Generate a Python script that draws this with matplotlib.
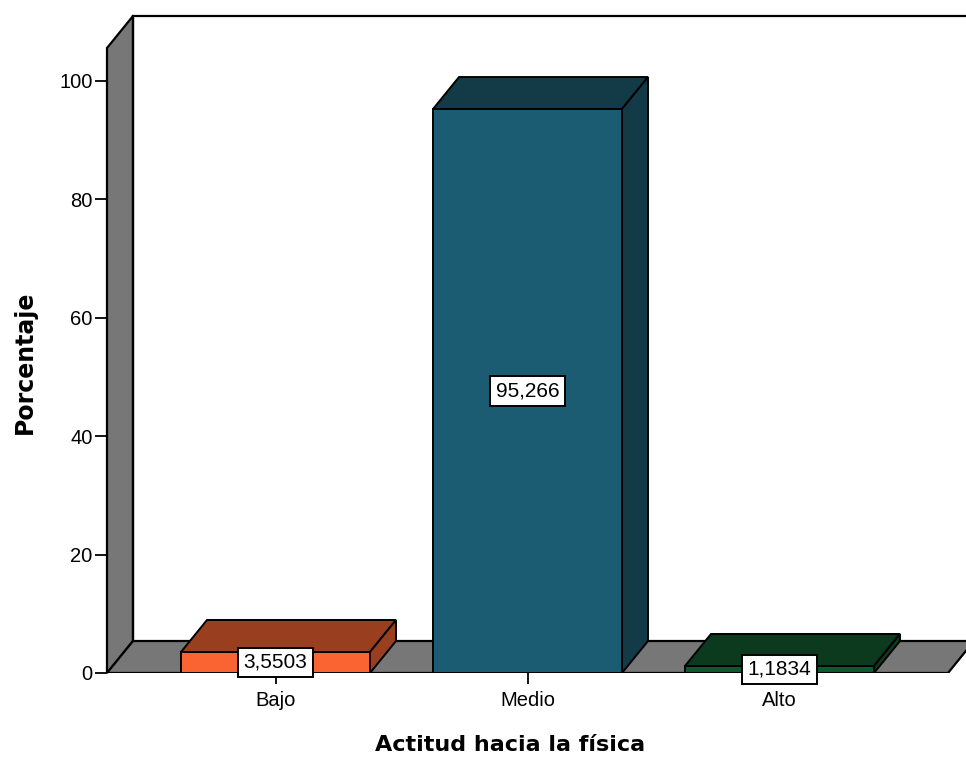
import matplotlib
matplotlib.use("Agg")
import matplotlib.pyplot as plt
from matplotlib.patches import Polygon

# Data
categories = ["Bajo", "Medio", "Alto"]
percentages = [3.5503, 95.266, 1.1834]
yticks = [0, 20, 40, 60, 80, 100]

front_colors = ["#FA6433", "#1B5C73", "#0C5A30"]
shade_colors = ["#9A3E20", "#133A47", "#0B3A1F"]
wall_color = "#777777"

W, H = 966, 758
fig = plt.figure(figsize=(W / 100, H / 100), dpi=100)

# pixel layout of the plotting frame
px_left, px_right = 107, 966
px_zero, px_top = 673, 10
px_per_unit = 5.92          # pixels per percent
px_per_cat = 252            # pixels per category step
cat0_px = 275.5

xmin = (px_left - cat0_px) / px_per_cat
xmax = (px_right - cat0_px) / px_per_cat
ymax = (px_zero - px_top) / px_per_unit

ax = fig.add_axes([px_left / W, 1 - px_zero / H,
                   (px_right - px_left) / W, (px_zero - px_top) / H])
ax.set_xlim(xmin, xmax)
ax.set_ylim(0, ymax)
for s in ax.spines.values():
    s.set_visible(False)

# depth offsets for the 3D look
DX = 26 / px_per_cat
DY = 32 / px_per_unit
wall_top = (px_zero - 16) / px_per_unit
floor_end = (948 - cat0_px) / px_per_cat
lw = 1.6

# left wall
ax.add_patch(Polygon([(xmin, 0), (xmin, wall_top - DY), (xmin + DX, wall_top),
                      (xmin + DX, DY)], closed=True, fc=wall_color, ec="black",
                     lw=lw, zorder=1, clip_on=False))
# floor
ax.add_patch(Polygon([(xmin, 0), (floor_end, 0), (floor_end + DX, DY),
                      (xmin + DX, DY)], closed=True, fc=wall_color, ec="black",
                     lw=lw, zorder=1))
# back wall outline
ax.plot([xmin + DX, xmin + DX], [DY, wall_top], color="black", lw=lw, zorder=1.5,
        solid_capstyle="projecting")
ax.plot([xmin + DX, xmax], [wall_top, wall_top], color="black", lw=lw, zorder=1.5,
        clip_on=False)

# bars
bw = 189 / px_per_cat
for i, (v, fc, sc) in enumerate(zip(percentages, front_colors, shade_colors)):
    l, r = i - bw / 2, i + bw / 2
    z = 3 + i
    ax.add_patch(Polygon([(l, 0), (r, 0), (r, v), (l, v)], closed=True,
                         fc=fc, ec="black", lw=1.4, zorder=z))
    ax.add_patch(Polygon([(l, v), (r, v), (r + DX, v + DY), (l + DX, v + DY)],
                         closed=True, fc=sc, ec="black", lw=1.4, zorder=z))
    ax.add_patch(Polygon([(r, 0), (r + DX, DY), (r + DX, v + DY), (r, v)],
                         closed=True, fc=sc, ec="black", lw=1.4, zorder=z))
    label = f"{v:g}".replace(".", ",")
    ax.text(i, v / 2, label, ha="center", va="center", fontsize=15,
            family="Liberation Sans", zorder=10, clip_on=False,
            bbox=dict(boxstyle="square,pad=0.25", fc="white", ec="black", lw=1.4))

# ticks
ax.set_yticks(yticks)
ax.set_yticklabels([str(t) for t in yticks], family="Liberation Sans", fontsize=14.5)
ax.set_xticks(range(len(categories)))
ax.set_xticklabels(categories, family="Liberation Sans", fontsize=14.5)
ax.tick_params(axis="y", length=9, width=1.3, pad=1.5)
ax.tick_params(axis="x", length=8, width=1.3, pad=5)

fig.text(510 / W, 1 - 745 / H, "Actitud hacia la física", ha="center", va="center",
         fontsize=16, fontweight="bold", family="DejaVu Sans")
fig.text(25 / W, 1 - 362 / H, "Porcentaje", ha="center", va="center",
         rotation=90, fontsize=17, fontweight="bold", family="DejaVu Sans")

fig.savefig("out.png", dpi=100, facecolor="white")
